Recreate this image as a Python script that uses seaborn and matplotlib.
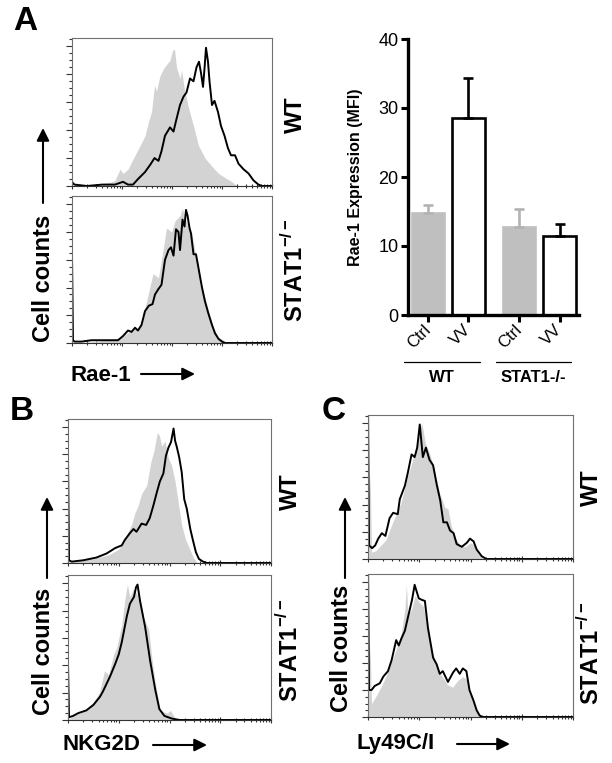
import numpy as np
import matplotlib
matplotlib.use('Agg')
import matplotlib.pyplot as plt
from matplotlib.patches import FancyArrowPatch
import seaborn as sns

# Histogram curves: x = log10 fluorescence, y = % of max
rae1_wt_ctrl_x = [0.0, 0.05, 0.5, 0.8, 0.86, 0.96, 1.02, 1.12, 1.19, 1.29, 1.39, 1.46, 1.53, 1.59, 1.65, 1.69,
                  1.76, 1.83, 1.89, 1.96, 2.01, 2.05, 2.09, 2.16, 2.19, 2.25, 2.33, 2.43, 2.53, 2.66, 2.80, 2.93,
                  3.06, 3.20, 3.30, 4.0]
rae1_wt_ctrl_y = [0, 1, 1, 3, 4, 12, 9, 12, 17, 24, 31, 36, 46, 53, 72, 68, 79, 84, 87, 90, 97, 98, 85, 77, 83,
                  69, 56, 43, 29, 20, 14, 9, 6, 3, 0, 0]
rae1_wt_vv_x = [0.0, 0.02, 0.05, 0.3, 0.6, 0.86, 1.02, 1.12, 1.22, 1.32, 1.46, 1.56, 1.65, 1.73, 1.79, 1.86, 1.96,
                2.03, 2.09, 2.16, 2.23, 2.29, 2.36, 2.43, 2.49, 2.54, 2.58, 2.62, 2.65, 2.68, 2.72, 2.75, 2.80,
                2.85, 2.92, 2.98, 3.05, 3.12, 3.18, 3.26, 3.33, 3.43, 3.53, 3.63, 3.73, 3.80, 4.0]
rae1_wt_vv_y = [3, 2, 1, 0, 1, 1, 3, 1, 1, 5, 10, 15, 20, 18, 25, 36, 42, 39, 48, 58, 64, 67, 77, 75, 85, 89,
                81, 71, 84, 99, 89, 75, 58, 61, 53, 43, 36, 27, 22, 22, 16, 12, 9, 4, 1, 0, 0]

rae1_stat_ctrl_x = [0.0, 0.5, 1.0, 1.1, 1.2, 1.32, 1.39, 1.49, 1.62, 1.73, 1.83, 1.89, 1.99, 2.06, 2.16, 2.21,
                    2.26, 2.33, 2.39, 2.49, 2.59, 2.73, 2.83, 2.93, 3.03, 3.10, 4.0]
rae1_stat_ctrl_y = [0, 1, 4, 7, 9, 11, 16, 30, 50, 47, 69, 83, 80, 88, 92, 97, 90, 83, 80, 61, 42, 23, 11, 4,
                    2, 0, 0]
rae1_stat_vv_x = [0.0, 0.02, 0.05, 0.19, 0.39, 0.66, 0.92, 1.02, 1.12, 1.19, 1.26, 1.32, 1.39, 1.46, 1.54, 1.61,
                  1.66, 1.73, 1.79, 1.86, 1.93, 1.98, 2.03, 2.08, 2.13, 2.16, 2.21, 2.25, 2.28, 2.31, 2.35, 2.38,
                  2.43, 2.48, 2.53, 2.60, 2.66, 2.73, 2.80, 2.86, 2.93, 3.00, 3.06, 4.0]
rae1_stat_vv_y = [63, 2, 1, 1, 2, 2, 2, 5, 9, 8, 11, 9, 13, 23, 27, 28, 35, 39, 42, 60, 67, 69, 63, 82, 80, 67,
                  89, 84, 96, 92, 83, 79, 64, 64, 54, 40, 30, 21, 13, 7, 3, 1, 0, 0]

nkg2d_wt_ctrl_x = [0.0, 0.1, 0.5, 0.8, 1.0, 1.15, 1.25, 1.32, 1.38, 1.45, 1.55, 1.63, 1.69, 1.76, 1.80, 1.85,
                   1.91, 1.98, 2.04, 2.11, 2.17, 2.24, 2.31, 2.40, 2.47, 2.55, 4.0]
nkg2d_wt_ctrl_y = [0, 1, 3, 6, 10, 20, 28, 37, 42, 51, 57, 74, 82, 96, 94, 86, 90, 77, 72, 60, 45, 28, 18, 10,
                   4, 0, 0]
nkg2d_wt_vv_x = [0.0, 0.02, 0.07, 0.30, 0.56, 0.76, 0.93, 1.06, 1.12, 1.22, 1.29, 1.35, 1.45, 1.54, 1.61, 1.68,
                 1.75, 1.81, 1.88, 1.93, 1.98, 2.03, 2.08, 2.11, 2.14, 2.19, 2.24, 2.29, 2.34, 2.41, 2.46, 2.52,
                 2.58, 2.66, 2.74, 4.0]
nkg2d_wt_vv_y = [78, 2, 1, 2, 4, 7, 11, 13, 17, 22, 25, 23, 29, 28, 33, 42, 52, 60, 66, 79, 85, 89, 99, 90, 86,
                 78, 67, 47, 40, 25, 17, 8, 3, 1, 0, 0]

nkg2d_stat_ctrl_x = [0.0, 0.1, 0.3, 0.5, 0.62, 0.72, 0.8, 0.9, 0.96, 1.06, 1.12, 1.17, 1.22, 1.29, 1.36, 1.42,
                     1.49, 1.59, 1.65, 1.72, 1.82, 1.95, 2.02, 2.10, 2.20, 4.0]
nkg2d_stat_ctrl_y = [0, 3, 6, 13, 20, 36, 33, 48, 53, 70, 88, 99, 90, 96, 92, 88, 75, 66, 46, 27, 7, 5, 7, 2,
                     0, 0]
nkg2d_stat_vv_x = [0.0, 0.02, 0.1, 0.2, 0.36, 0.5, 0.63, 0.69, 0.83, 0.93, 1.0, 1.06, 1.16, 1.22, 1.30, 1.34,
                   1.37, 1.42, 1.52, 1.62, 1.72, 1.80, 1.90, 2.05, 2.20, 4.0]
nkg2d_stat_vv_y = [41, 2, 3, 5, 7, 11, 17, 21, 32, 41, 48, 57, 76, 85, 90, 97, 99, 87, 68, 43, 22, 8, 3, 1, 0, 0]

ly49_wt_ctrl_x = [0.0, 0.04, 0.07, 0.15, 0.25, 0.35, 0.45, 0.55, 0.65, 0.75, 0.85, 0.92, 1.0, 1.05, 1.12, 1.2,
                  1.3, 1.4, 1.5, 1.56, 1.62, 1.7, 1.8, 1.9, 2.0, 2.07, 2.15, 2.25, 4.0]
ly49_wt_ctrl_y = [0, 64, 5, 6, 10, 14, 24, 33, 42, 58, 70, 80, 94, 100, 85, 78, 65, 48, 38, 37, 25, 16, 10, 9,
                  12, 10, 4, 0, 0]
ly49_wt_vv_x = [0.0, 0.02, 0.08, 0.14, 0.20, 0.27, 0.34, 0.42, 0.49, 0.58, 0.62, 0.72, 0.78, 0.85, 0.91, 0.96,
                1.01, 1.07, 1.13, 1.20, 1.27, 1.34, 1.41, 1.47, 1.54, 1.60, 1.67, 1.73, 1.83, 1.93, 1.99, 2.06,
                2.12, 2.22, 2.31, 4.0]
ly49_wt_vv_y = [115, 10, 8, 10, 15, 19, 17, 30, 34, 33, 44, 54, 64, 77, 75, 82, 99, 75, 82, 73, 69, 55, 43, 27,
                27, 21, 19, 11, 9, 12, 15, 13, 7, 2, 0, 0]

ly49_stat_ctrl_x = [0.0, 0.04, 0.07, 0.15, 0.25, 0.35, 0.45, 0.55, 0.65, 0.72, 0.75, 0.78, 0.85, 0.92, 1.0, 1.08,
                    1.15, 1.25, 1.35, 1.45, 1.55, 1.65, 1.75, 1.85, 1.92, 2.0, 2.08, 2.15, 2.22, 4.0]
ly49_stat_ctrl_y = [0, 54, 10, 15, 22, 30, 40, 50, 62, 80, 98, 75, 80, 90, 85, 82, 68, 50, 36, 30, 24, 22, 27,
                    30, 28, 18, 8, 2, 0, 0]
ly49_stat_vv_x = [0.0, 0.02, 0.07, 0.13, 0.23, 0.30, 0.39, 0.46, 0.52, 0.55, 0.60, 0.65, 0.72, 0.78, 0.86, 0.91,
                  0.99, 1.04, 1.11, 1.17, 1.27, 1.34, 1.40, 1.46, 1.56, 1.66, 1.72, 1.79, 1.85, 1.92, 1.98, 2.06,
                  2.12, 2.18, 2.25, 4.0]
ly49_stat_vv_y = [115, 20, 20, 23, 25, 30, 34, 42, 52, 57, 53, 58, 64, 74, 87, 98, 88, 87, 86, 66, 44, 39, 32,
                  34, 26, 33, 36, 32, 36, 34, 20, 12, 5, 1, 0, 0]

# Bar chart (Rae-1 MFI, mean + error)
bar_genotype = ['WT', 'WT', 'STAT1-/-', 'STAT1-/-']
bar_treatment = ['Ctrl', 'VV', 'Ctrl', 'VV']
rae1_mfi = [14.8, 28.6, 12.8, 11.4]
rae1_err = [1.1, 5.7, 2.6, 1.8]

W, H = 612, 763
GRAY_FILL = '#d3d3d3'
STAT_LABEL = r'STAT1$^{\mathbf{-/-}}$'


def px(x, y):
    return x / W, 1 - y / H


def add_axes_px(fig, left, top, right, bottom):
    return fig.add_axes([left / W, 1 - bottom / H, (right - left) / W, (bottom - top) / H])


def draw_hist(ax, ctrl_x, ctrl_y, vv_x, vv_y):
    ax.fill_between(ctrl_x, ctrl_y, color=GRAY_FILL, lw=0)
    sns.lineplot(x=vv_x, y=vv_y, ax=ax, color='black', lw=1.4, sort=False, estimator=None)
    ax.set_xlim(0, 4)
    ax.set_ylim(0, 106)
    ax.set_xticks(range(5))
    ax.set_xticks([d + np.log10(k) for d in range(4) for k in range(2, 10)], minor=True)
    ax.set_yticks(range(0, 101, 20))
    ax.set_yticks(range(0, 106, 5), minor=True)
    ax.tick_params(which='both', labelbottom=False, labelleft=False, bottom=True, left=True,
                   top=False, right=False, color='#333333', width=0.8)
    ax.tick_params(axis='x', which='major', direction='inout', length=5)
    ax.tick_params(axis='x', which='minor', direction='inout', length=3)
    ax.tick_params(axis='y', which='major', direction='out', length=4)
    ax.tick_params(axis='y', which='minor', direction='out', length=2)
    for s in ax.spines.values():
        s.set_visible(True)
        s.set_color('#707070')
        s.set_linewidth(0.8)
    ax.spines['bottom'].set_color('#333333')
    ax.set_xlabel('')
    ax.set_ylabel('')


def arrow(fig, x0, y0, x1, y1):
    fig.add_artist(FancyArrowPatch(px(x0, y0), px(x1, y1), transform=fig.transFigure,
                                   arrowstyle='-|>,head_length=0.5,head_width=0.25', mutation_scale=15,
                                   lw=1.5, color='black', shrinkA=0, shrinkB=0))


def label(fig, x, y, s, size=17, **kw):
    fig.text(*px(x, y), s, fontsize=size, weight='bold', ha='center', va='center', **kw)


def main():
    sns.set_style('ticks')
    plt.rcParams['font.family'] = ['Liberation Sans', 'DejaVu Sans']
    plt.rcParams['mathtext.fontset'] = 'custom'
    plt.rcParams['mathtext.rm'] = 'Liberation Sans'
    plt.rcParams['mathtext.bf'] = 'Liberation Sans:bold'
    for k in ('text.color', 'axes.labelcolor', 'xtick.color', 'ytick.color', 'axes.edgecolor'):
        plt.rcParams[k] = 'black'

    fig = plt.figure(figsize=(W / 100, H / 100), dpi=100)

    # histograms
    draw_hist(add_axes_px(fig, 72, 38, 272, 186), rae1_wt_ctrl_x, rae1_wt_ctrl_y, rae1_wt_vv_x, rae1_wt_vv_y)
    draw_hist(add_axes_px(fig, 72, 196, 272, 343), rae1_stat_ctrl_x, rae1_stat_ctrl_y,
              rae1_stat_vv_x, rae1_stat_vv_y)
    draw_hist(add_axes_px(fig, 68, 419, 271, 563), nkg2d_wt_ctrl_x, nkg2d_wt_ctrl_y, nkg2d_wt_vv_x, nkg2d_wt_vv_y)
    draw_hist(add_axes_px(fig, 68, 575, 271, 720), nkg2d_stat_ctrl_x, nkg2d_stat_ctrl_y,
              nkg2d_stat_vv_x, nkg2d_stat_vv_y)
    draw_hist(add_axes_px(fig, 368, 415, 573, 559), ly49_wt_ctrl_x, ly49_wt_ctrl_y, ly49_wt_vv_x, ly49_wt_vv_y)
    draw_hist(add_axes_px(fig, 368, 574, 573, 717), ly49_stat_ctrl_x, ly49_stat_ctrl_y,
              ly49_stat_vv_x, ly49_stat_vv_y)

    # bar chart
    ax = add_axes_px(fig, 408, 39, 579, 315)
    bar_x = [i + (0.25 if g != bar_genotype[0] else 0.0) for i, g in enumerate(bar_genotype)]
    sns.barplot(x=bar_x, y=rae1_mfi, hue=bar_treatment, palette={'Ctrl': '#bfbfbf', 'VV': 'white'},
                native_scale=True, dodge=False, legend=False, width=0.8, linewidth=1.9,
                edgecolor='black', errorbar=None, ax=ax)
    for p in ax.patches:
        if p.get_facecolor()[0] < 0.9:
            p.set_edgecolor('#bfbfbf')
    for xi, m, e, t in zip(bar_x, rae1_mfi, rae1_err, bar_treatment):
        c = 'black' if t == 'VV' else '#b3b3b3'
        ax.errorbar([xi], [m], yerr=[[0], [e]], fmt='none', ecolor=c, elinewidth=1.9,
                    capsize=3.8, capthick=1.9, zorder=3)
    ax.set_xlim(-0.49, 3.73)
    ax.set_ylim(0, 40)
    ax.set_yticks(range(0, 41, 10))
    ax.set_xticks(bar_x)
    ax.set_xticklabels(bar_treatment, rotation=45, ha='right', va='center', rotation_mode='anchor', fontsize=12)
    ax.tick_params(axis='y', labelsize=13, length=5, width=2.2, pad=2, direction='out', left=True)
    ax.tick_params(axis='x', length=5, width=2.2, pad=4, direction='out', bottom=True)
    sns.despine(ax=ax)
    for s in ('left', 'bottom'):
        ax.spines[s].set_linewidth(2.4)
        ax.spines[s].set_color('black')
    ax.set_xlabel('')
    ax.set_ylabel('')
    xt = ax.get_xaxis_transform()
    for g in ('WT', 'STAT1-/-'):
        gx = [x for x, gg in zip(bar_x, bar_genotype) if gg == g]
        c = sum(gx) / len(gx) - 0.15
        ax.plot([c - 0.93, c + 0.93], [-0.169, -0.169], transform=xt, color='black', lw=0.9, clip_on=False)
        ax.text(c, -0.228, g, transform=xt, ha='center', va='center', fontsize=12, weight='bold')
    fig.text(*px(355, 177), 'Rae-1 Expression (MFI)', rotation=90, ha='center', va='center',
             fontsize=11.5, weight='bold')

    # panel letters
    label(fig, 25, 22, 'A', size=24)
    label(fig, 22, 412, 'B', size=24)
    label(fig, 334, 412, 'C', size=24)

    # side labels
    for x, y, s in [(295, 115, 'WT'), (295, 270, STAT_LABEL), (290, 492, 'WT'), (290, 650, STAT_LABEL),
                    (591, 488, 'WT'), (591, 653, STAT_LABEL)]:
        label(fig, x, y, s, rotation=90)

    # cell counts with arrows
    for x, y in [(44, 278), (44, 651), (342, 648)]:
        label(fig, x, y, 'Cell counts', rotation=90)
    arrow(fig, 43, 203, 43, 128)
    arrow(fig, 47, 578, 47, 497)
    arrow(fig, 345, 578, 345, 497)

    # marker labels with arrows
    for x, y, s in [(70, 375, 'Rae-1'), (62, 745, 'NKG2D'), (357, 744, 'Ly49C/I')]:
        fig.text(*px(x, y), s, fontsize=16, weight='bold', ha='left', va='center')
    arrow(fig, 141, 374, 195, 374)
    arrow(fig, 153, 745, 207, 745)
    arrow(fig, 457, 744, 510, 744)

    fig.savefig('out.png', dpi=100)


if __name__ == '__main__':
    main()
